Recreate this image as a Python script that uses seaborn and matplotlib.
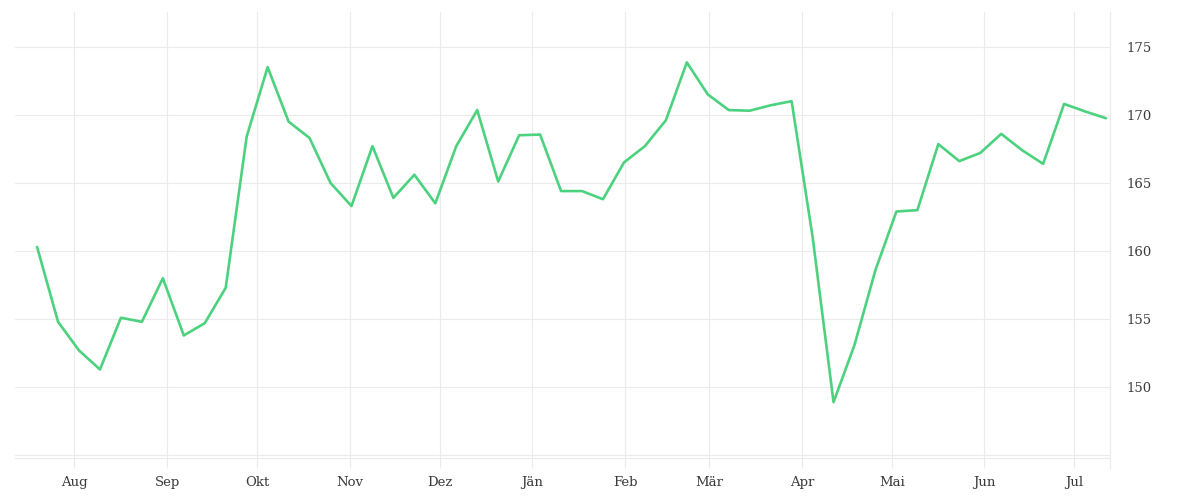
import numpy as np
import pandas as pd
import matplotlib
matplotlib.use("Agg")
import matplotlib.pyplot as plt
import seaborn as sns

# woechentliche werte
start = "2022-07-19 14:00"
values = [160.3, 154.8, 152.7, 151.3, 155.1, 154.8, 158.0, 153.8, 154.7, 157.3,
          168.4, 173.5, 169.5, 168.3, 165.0, 163.3, 167.7, 163.9, 165.6, 163.5,
          167.7, 170.35, 165.1, 168.5, 168.55, 164.4, 164.4, 163.8, 166.5, 167.7,
          169.6, 173.85, 171.5, 170.35, 170.3, 170.7, 171.0, 161.05, 148.9, 153.1,
          158.6, 162.9, 163.0, 167.85, 166.6, 167.2, 168.6, 167.4, 166.4, 170.8,
          170.25, 169.75]
month_ticks = ["2022-08-01", "2022-09-01", "2022-10-01", "2022-11-01", "2022-12-01",
               "2023-01-01", "2023-02-01", "2023-03-01", "2023-04-01", "2023-05-01",
               "2023-06-01", "2023-07-01"]
month_labels = ["Aug", "Sep", "Okt", "Nov", "Dez", "Jän", "Feb", "Mär", "Apr",
                "Mai", "Jun", "Jul"]
y_ticks = [150, 155, 160, 165, 170, 175]

df = pd.DataFrame({"datum": pd.date_range(start, periods=len(values), freq="7D"),
                   "wert": values})

sns.set_theme(style="white")
plt.rcParams["font.family"] = ["DejaVu Serif"]

grid_col = "#ebebeb"
fig = plt.figure(figsize=(12, 5), dpi=100)
ax = fig.add_axes([0.0125, 0.084, 0.9125, 0.892])

sns.lineplot(data=df, x="datum", y="wert", color="#4cd27f", linewidth=1.9, ax=ax)

ax.set_xlim(pd.Timestamp("2022-07-12 05:00"), pd.Timestamp("2023-07-12 22:00"))
ax.set_ylim(144.8, 177.55)

ax.set_xticks(pd.to_datetime(month_ticks))
ax.set_xticklabels(month_labels)
ax.set_yticks(y_ticks)
ax.yaxis.tick_right()

ax.grid(True, color=grid_col, linewidth=0.8)
ax.axhline(145, color=grid_col, linewidth=0.8, zorder=0)
ax.set_axisbelow(True)

for s in ["top", "left"]:
    ax.spines[s].set_visible(False)
for s in ["bottom", "right"]:
    ax.spines[s].set_color(grid_col)
    ax.spines[s].set_linewidth(0.8)
ax.axvline(ax.get_xlim()[1], ymin=-0.025, ymax=0, color=grid_col, linewidth=0.8, clip_on=False)

ax.tick_params(axis="x", length=7, width=0.8, color=grid_col, pad=6,
               labelsize=9.5, labelcolor="#3a3a3a", bottom=True)
ax.tick_params(axis="y", length=0, pad=12, labelsize=9.5, labelcolor="#3a3a3a")
for lab in ax.get_yticklabels():
    lab.set_horizontalalignment("left")

ax.set_xlabel("")
ax.set_ylabel("")

fig.savefig("out.png", dpi=100)
